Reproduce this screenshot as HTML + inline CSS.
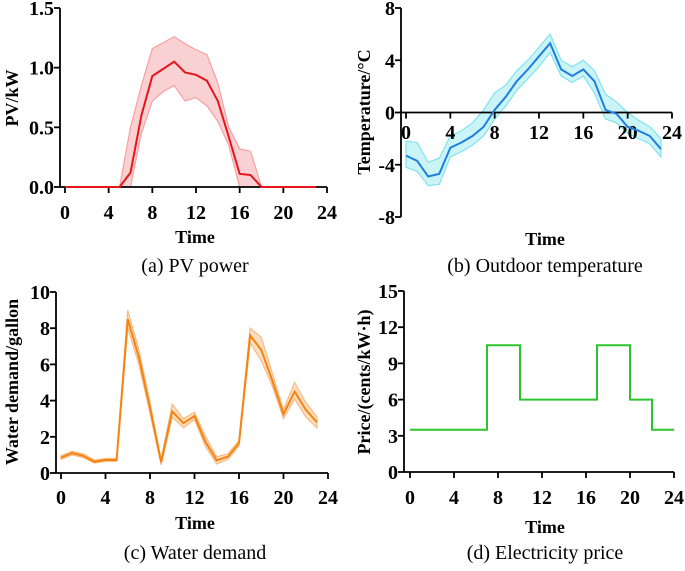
<!DOCTYPE html>
<html><head><meta charset="utf-8"><style>
body{margin:0;background:#fff;width:685px;height:566px;overflow:hidden}
svg text{font-family:"Liberation Serif",serif}
.t{font-weight:bold;font-size:20px}
.at{font-weight:bold;font-size:18px}
.cap{font-size:20px}
</style></head><body>
<svg id="s" width="685" height="566" xmlns="http://www.w3.org/2000/svg"></svg>
<script>
const hours=[0,1,2,3,4,5,6,7,8,9,10,11,12,13,14,15,16,17,18,19,20,21,22,23];
const pvMean=[0,0,0,0,0,0,0.12,0.6,0.93,0.99,1.05,0.96,0.94,0.89,0.72,0.42,0.11,0.10,0,0,0,0,0,0];
const pvUpper=[0,0,0,0,0,0,0.5,0.85,1.16,1.21,1.26,1.2,1.15,1.11,0.87,0.5,0.32,0.3,0,0,0,0,0,0];
const pvLower=[0,0,0,0,0,0,0,0.45,0.72,0.8,0.85,0.72,0.75,0.68,0.55,0.35,0,0,0,0,0,0,0,0];
const tMean=[-3.3,-3.7,-4.9,-4.7,-2.7,-2.3,-1.8,-1.1,0.2,1.2,2.4,3.3,4.3,5.3,3.3,2.8,3.3,2.4,0.2,-0.1,-1.1,-1.4,-1.8,-2.8];
const tUpper=[-2.2,-2.3,-3.8,-3.5,-1.8,-1.4,-0.8,0.2,1.5,2.1,3.2,4.0,5.0,6.0,4.0,3.5,4.0,3.2,1.4,0.8,0,-0.6,-1.1,-2.0];
const tLower=[-4.2,-4.5,-5.6,-5.5,-3.4,-3.0,-2.5,-1.8,-0.5,0.5,1.7,2.6,3.5,4.6,2.8,2.3,2.8,1.5,-0.5,-0.8,-1.6,-2.0,-2.4,-3.4];
const wMean=[0.85,1.1,0.95,0.62,0.72,0.72,8.5,6.4,3.6,0.6,3.4,2.75,3.15,1.7,0.7,0.9,1.65,7.6,6.8,5.1,3.25,4.5,3.5,2.8];
const wUpper=[0.95,1.2,1.05,0.72,0.8,0.8,9.0,6.8,3.9,0.75,3.8,3.0,3.35,2.0,0.9,1.05,1.8,8.0,7.5,5.5,3.5,5.0,3.9,3.1];
const wLower=[0.75,1.0,0.85,0.55,0.65,0.65,8.0,6.0,3.3,0.45,3.1,2.5,2.95,1.45,0.5,0.75,1.5,7.2,6.2,4.8,3.0,4.1,3.1,2.5];
const priceX=[0,7,7,10,10,17,17,20,20,22,22,24];
const priceY=[3.5,3.5,10.5,10.5,6,6,10.5,10.5,6,6,3.5,3.5];
const xTicks=[0,4,8,12,16,20,24];
const pvTicks=["0.0","0.5","1.0","1.5"],tTicks=[-8,-4,0,4,8],wTicks=[0,2,4,6,8,10],pTicks=[0,3,6,9,12,15];

const S=document.getElementById('s');
function el(tag,attrs,parent){const e=document.createElementNS('http://www.w3.org/2000/svg',tag);for(const k in attrs)e.setAttribute(k,attrs[k]);(parent||S).appendChild(e);return e;}
function txt(str,attrs,parent){const e=el('text',attrs,parent);e.textContent=str;return e;}

function panel(o){
  const g=el('g',{});
  
  
  const X=v=>o.x0+(v-0)/24*(o.x1-o.x0);
  const Y=v=>o.yb+(v-o.ymin)/(o.ymax-o.ymin)*(o.yt-o.yb);
  if(o.upper){
    let d='M'+o.xs.map((h,i)=>X(h)+','+Y(o.upper[i])).join('L');
    for(let i=o.xs.length-1;i>=0;i--)d+='L'+X(o.xs[i])+','+Y(o.lower[i]);
    const b=el('path',{d:d+'Z',fill:o.band,'fill-opacity':0.6,stroke:o.bandStroke,'stroke-width':1.2},g);
    
    
  }
  const zeroY=Y(o.xAxisAt);
  const ax=el('g',{stroke:'#000','stroke-width':1.8,fill:'none'},g);
  
  
  el('line',{x1:o.ax,y1:Y(o.ymax),x2:o.ax,y2:Y(o.ymin)},ax);
  el('line',{x1:o.ax,y1:zeroY,x2:o.x1,y2:zeroY},ax);
  xTicks.forEach(t=>{el('line',{x1:X(t),y1:zeroY,x2:X(t),y2:zeroY+6},ax);
    const l=txt(t,{x:X(t),y:o.xLabY,'text-anchor':'middle',class:'t'},g);
    
    });
  o.yTicks.forEach(t=>{const v=parseFloat(t);el('line',{x1:o.ax-6,y1:Y(v),x2:o.ax,y2:Y(v)},ax);
    const l=txt(t,{x:o.ax-6,y:Y(v)+7,'text-anchor':'end',class:'t'},g);
    
    });
  const line=el('path',{d:'M'+o.xs.map((h,i)=>X(h)+','+Y(o.mean[i])).join('L'),fill:'none',stroke:o.color,'stroke-width':2},g);
  
  
  const yt=txt(o.ytitle,{x:0,y:0,'text-anchor':'middle',class:'at',transform:`translate(${o.ytX},${o.ytY}) rotate(-90)`},g);
  
  
  const xt=txt('Time',{x:o.tX,y:o.tY,'text-anchor':'middle',class:'at'},g);
  
  
  const c=txt(o.cap,{x:o.tX,y:o.capY,'text-anchor':'middle',class:'cap'},g);
  
  
}
panel({name:'pv-power-panel',xs:hours,mean:pvMean,upper:pvUpper,lower:pvLower,color:'#e8141c',band:'#f7b2b4',bandStroke:'#f5a0a3',
  x0:65,x1:327,ax:60,ymin:0,ymax:1.5,yb:187,yt:8,xAxisAt:0,yTicks:pvTicks,xLabY:219,ytitle:'PV/kW',ytX:18,ytY:98,tX:195,tY:243,cap:'(a) PV power',capY:272});
panel({name:'outdoor-temperature-panel',xs:hours,mean:tMean,upper:tUpper,lower:tLower,color:'#1f7fe0',band:'#a8ecf2',bandStroke:'#7fe3ee',
  x0:406,x1:672,ax:401,ymin:-8,ymax:8,yb:217,yt:8,xAxisAt:0,yTicks:tTicks,xLabY:139,ytitle:'Temperature/°C',ytX:370,ytY:112,tX:545,tY:245,cap:'(b) Outdoor temperature',capY:272});
panel({name:'water-demand-panel',xs:hours,mean:wMean,upper:wUpper,lower:wLower,color:'#f7830f',band:'#f8c99a',bandStroke:'#f5bb85',
  x0:61,x1:328,ax:56,ymin:0,ymax:10,yb:473,yt:292,xAxisAt:0,yTicks:wTicks,xLabY:504,ytitle:'Water demand/gallon',ytX:18,ytY:382,tX:195,tY:529,cap:'(c) Water demand',capY:559});
panel({name:'electricity-price-panel',xs:priceX,mean:priceY,color:'#2dc52d',
  x0:410,x1:674,ax:404,ymin:0,ymax:15,yb:472,yt:291,xAxisAt:0,yTicks:pTicks,xLabY:504,ytitle:'Price/(cents/kW·h)',ytX:370,ytY:382,tX:545,tY:533,cap:'(d) Electricity price',capY:559});
</script>
</body></html>
